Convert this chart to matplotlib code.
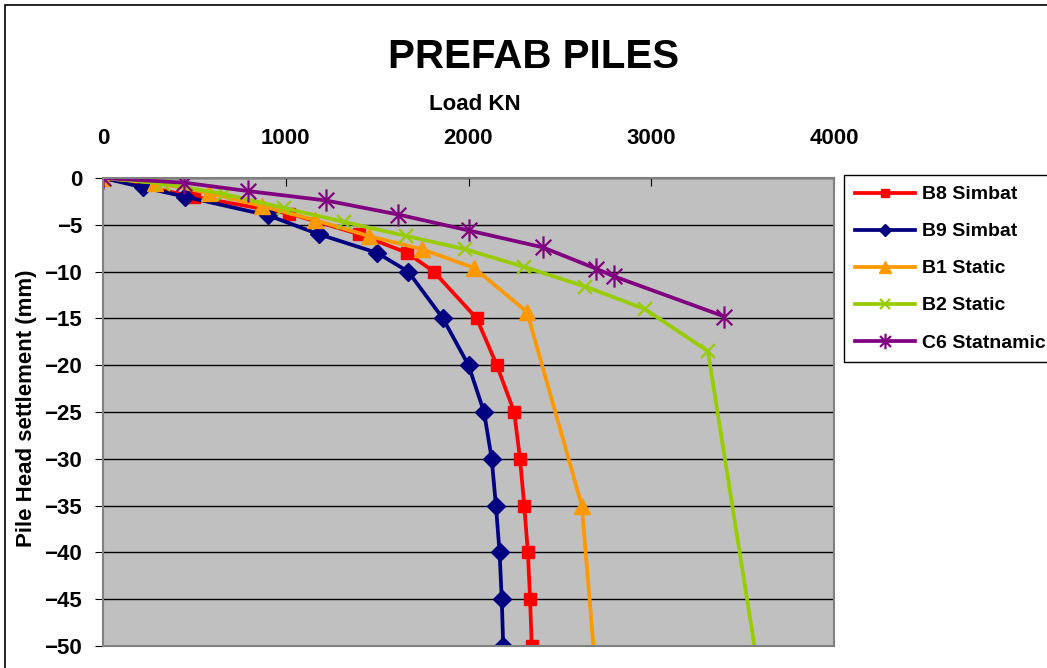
import matplotlib
matplotlib.use("Agg")
import matplotlib.pyplot as plt
from matplotlib.path import Path
from matplotlib.patches import Rectangle

plt.rcParams['font.family'] = ['Liberation Sans', 'DejaVu Sans']
plt.rcParams['font.weight'] = 'bold'

# load (kN) vs pile head settlement (mm)
b8_load = [0, 500, 1020, 1400, 1665, 1810, 2045, 2155, 2250, 2282, 2305, 2325, 2337, 2346]
b8_set = [0, -2, -3.8, -6, -8, -10, -15, -20, -25, -30, -35, -40, -45, -50]

b9_load = [0, 220, 450, 905, 1180, 1500, 1670, 1860, 2000, 2085, 2127, 2150, 2170, 2182, 2190]
b9_set = [0, -1, -2, -4, -6, -8, -10, -15, -20, -25, -30, -35, -40, -45, -50]

b1_load = [0, 285, 580, 870, 1160, 1455, 1745, 2030, 2320, 2620, 2705]
b1_set = [0, -0.5, -1.6, -3, -4.5, -6.2, -7.6, -9.6, -14.3, -35, -55]

b2_load = [0, 330, 660, 990, 1320, 1660, 1980, 2305, 2640, 2965, 3310, 3605]
b2_set = [0, -0.6, -1.7, -3.2, -4.7, -6.2, -7.6, -9.5, -11.6, -14, -18.5, -55]

c6_load = [0, 445, 795, 1220, 1615, 2000, 2405, 2700, 2795, 3400]
c6_set = [0, -0.5, -1.4, -2.4, -3.9, -5.6, -7.4, -9.7, -10.5, -14.8]

x_ticks = [0, 1000, 2000, 3000, 4000]
y_ticks = [0, -5, -10, -15, -20, -25, -30, -35, -40, -45, -50]

# excel style star: x plus a vertical bar
star = Path([(0, -1), (0, 1), (-0.7, -0.7), (0.7, 0.7), (-0.7, 0.7), (0.7, -0.7)],
            [Path.MOVETO, Path.LINETO] * 3)

W, H = 1047, 668
fig = plt.figure(figsize=(W / 100, H / 100), dpi=100)
ax = fig.add_axes([103 / W, 1 - 646 / H, (834 - 103) / W, (646 - 178) / H])
ax.set_facecolor('#C0C0C0')

lw = 2.7
ax.plot(b8_load, b8_set, c='#FF0000', lw=lw, marker='s', ms=8, label='B8 Simbat')
ax.plot(b9_load, b9_set, c='#000080', lw=lw, marker='D', ms=9, label='B9 Simbat')
ax.plot(b1_load, b1_set, c='#FF9900', lw=lw, marker='^', ms=12, label='B1 Static')
ax.plot(b2_load, b2_set, c='#99CC00', lw=lw, marker='x', ms=10, mew=1.6, label='B2 Static')
ax.plot(c6_load, c6_set, c='#800080', lw=lw, marker=star, ms=16, mew=1.6, label='C6 Statnamic')

ax.set_xlim(0, 4000)
ax.set_ylim(-50, 0)
ax.set_xticks(x_ticks)
ax.set_yticks(y_ticks)
ax.xaxis.tick_top()
ax.tick_params(axis='x', direction='in', length=6, pad=21, labelsize=16)
ax.tick_params(axis='y', direction='out', length=6, pad=9, labelsize=16)
for lab in ax.get_xticklabels() + ax.get_yticklabels():
    lab.set_fontweight('bold')

ax.grid(axis='y', color='black', lw=1)
ax.set_axisbelow(True)
for s in ax.spines.values():
    s.set_color('#808080')
    s.set_linewidth(1.5)

fig.text(534 / W, 1 - 57 / H, 'PREFAB PILES', ha='center', va='center',
         fontsize=29, fontweight='bold')
fig.text(475 / W, 1 - 105 / H, 'Load KN', ha='center', va='center',
         fontsize=16, fontweight='bold')
fig.text(27 / W, 1 - 408 / H, 'Pile Head settlement (mm)', ha='center', va='center',
         rotation=90, fontsize=16, fontweight='bold')

leg = fig.legend(loc='upper left', bbox_to_anchor=(844 / W, 1 - 175 / H),
                 borderaxespad=0, fancybox=False, framealpha=1, edgecolor='black',
                 prop={'size': 14, 'weight': 'bold'}, handlelength=3.1,
                 handletextpad=0.35, labelspacing=1.0, borderpad=0.55,
                 markerscale=0.7)
leg.get_frame().set_linewidth(1)

# outer chart frame, cut by the image on the right and bottom
fig.add_artist(Rectangle((5 / W, -0.2), 2, 1.2 - 5 / H, transform=fig.transFigure,
                         fill=False, edgecolor='black', lw=1.2))

fig.savefig('out.png', dpi=100)
